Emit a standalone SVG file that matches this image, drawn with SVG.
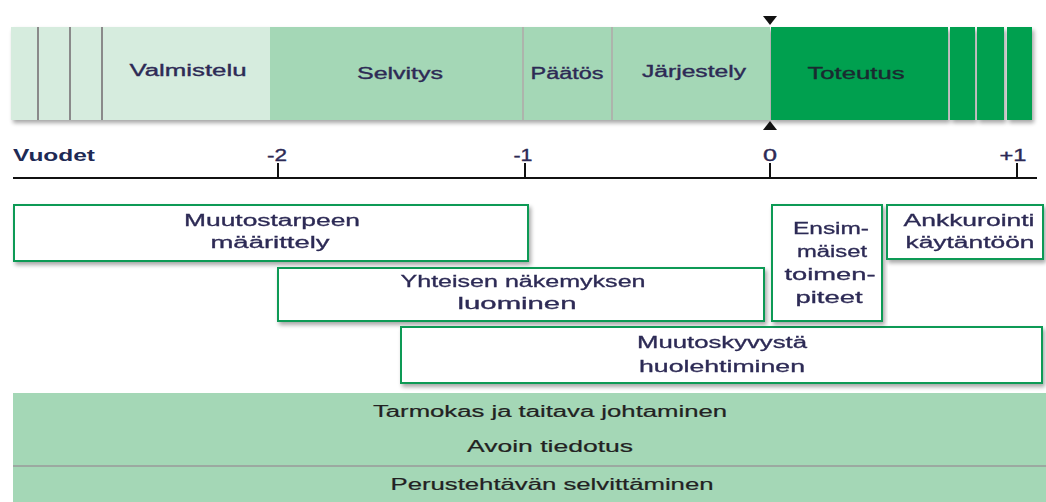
<svg xmlns="http://www.w3.org/2000/svg" width="1046" height="502" viewBox="0 0 1046 502">
<defs>
<filter id="sh" x="-5%" y="-20%" width="110%" height="150%">
<feGaussianBlur in="SourceAlpha" stdDeviation="2"/>
<feOffset dx="2" dy="3" result="b"/>
<feComponentTransfer><feFuncA type="linear" slope="0.35"/></feComponentTransfer>
<feMerge><feMergeNode/><feMergeNode in="SourceGraphic"/></feMerge>
</filter>
</defs>
<style>
text{font-family:"Liberation Sans",Arial,sans-serif;font-size:16px;fill:#2d2a55;text-anchor:middle}
.bar{font-size:16px;stroke:#2d2a55;stroke-width:0.35}
.bx{font-size:16px;stroke:#2d2a55;stroke-width:0.3}
.bot{font-size:16px;fill:#222;stroke:#222;stroke-width:0.2}
.ax{font-size:17px;font-weight:bold;fill:#1e2a55}
.light{fill:#d6ecde}
.mid{fill:#a4d7b6}
.dark{fill:#00a050}
.box{fill:#fff;stroke:#0a9a55;stroke-width:2}
.sep{stroke:#8a8a8a;stroke-width:2}
.sepl{stroke:#b0a8a8;stroke-width:1.5}
.tick{stroke:#111;stroke-width:2}
</style>

<g id="phases" filter="url(#sh)">
<rect class="light" x="11" y="27" width="259" height="93"/>
<rect class="mid" x="270" y="27" width="500" height="93"/>
<rect class="dark" x="771" y="27" width="177" height="93"/>
<rect class="dark" x="950" y="27" width="25" height="93"/>
<rect class="dark" x="977" y="27" width="27" height="93"/>
<rect class="dark" x="1007" y="27" width="25" height="93"/>
</g>
<g id="phase-lines">
<line class="sep" x1="38" y1="27" x2="38" y2="120"/>
<line class="sep" x1="70" y1="27" x2="70" y2="120" stroke="#666" stroke-width="3"/>
<line class="sep" x1="102" y1="27" x2="102" y2="120"/>
<line class="sepl" x1="523" y1="27" x2="523" y2="120"/>
<line class="sepl" x1="612" y1="27" x2="612" y2="120"/>
</g>
<g id="phase-valmistelu"><text class="bar" x="188" y="76" textLength="117" lengthAdjust="spacingAndGlyphs">Valmistelu</text></g>
<g id="phase-selvitys"><text class="bar" x="400" y="79" textLength="86" lengthAdjust="spacingAndGlyphs">Selvitys</text></g>
<g id="phase-paatos"><text class="bar" x="567" y="79" textLength="73" lengthAdjust="spacingAndGlyphs">Päätös</text></g>
<g id="phase-jarjestely"><text class="bar" x="694" y="77" textLength="104" lengthAdjust="spacingAndGlyphs">Järjestely</text></g>
<g id="phase-toteutus"><text class="bar" x="856" y="79" textLength="97" lengthAdjust="spacingAndGlyphs" style="fill:#1a2a30;stroke:#1a2a30">Toteutus</text></g>

<g id="markers">
<polygon points="763,16 777,16 770,25" fill="#111"/>
<polygon points="763,130 777,130 770,121" fill="#111"/>
</g>

<g id="connectors">
<line class="tick" x1="13" y1="178" x2="1037" y2="178"/>
<line class="tick" x1="278" y1="163" x2="278" y2="178"/>
<line class="tick" x1="525" y1="163" x2="525" y2="178"/>
<line class="tick" x1="770" y1="163" x2="770" y2="178"/>
<line class="tick" x1="1017" y1="163" x2="1017" y2="178"/>
</g>
<g id="axis-labels">
<text class="ax" x="13" y="161" style="text-anchor:start" textLength="82" lengthAdjust="spacingAndGlyphs">Vuodet</text>
<text class="bar" x="277" y="161" textLength="20" lengthAdjust="spacingAndGlyphs">-2</text>
<text class="bar" x="523" y="161" textLength="19" lengthAdjust="spacingAndGlyphs">-1</text>
<text class="bar" x="770" y="161" textLength="14" lengthAdjust="spacingAndGlyphs">0</text>
<text class="bar" x="1013" y="161" textLength="27" lengthAdjust="spacingAndGlyphs">+1</text>
</g>

<g id="box-muutostarpeen" filter="url(#sh)">
<rect class="box" x="14" y="205" width="514" height="56"/>
<text class="bx" x="272" y="226" textLength="176" lengthAdjust="spacingAndGlyphs">Muutostarpeen</text>
<text class="bx" x="270" y="248" textLength="119" lengthAdjust="spacingAndGlyphs">määrittely</text>
</g>
<g id="box-yhteisen" filter="url(#sh)">
<rect class="box" x="278" y="268" width="486" height="53"/>
<text class="bx" x="523" y="287" textLength="245" lengthAdjust="spacingAndGlyphs">Yhteisen näkemyksen</text>
<text class="bx" x="517" y="309" textLength="119" lengthAdjust="spacingAndGlyphs">luominen</text>
</g>
<g id="box-muutoskyvysta" filter="url(#sh)">
<rect class="box" x="401" y="327" width="641" height="56"/>
<text class="bx" x="722" y="348" textLength="170" lengthAdjust="spacingAndGlyphs">Muutoskyvystä</text>
<text class="bx" x="722" y="372" textLength="166" lengthAdjust="spacingAndGlyphs">huolehtiminen</text>
</g>
<g id="box-ensimmaiset" filter="url(#sh)">
<rect class="box" x="772" y="205" width="110" height="116"/>
<text class="bx" x="831" y="234" textLength="76" lengthAdjust="spacingAndGlyphs">Ensim-</text>
<text class="bx" x="832" y="257" textLength="70" lengthAdjust="spacingAndGlyphs">mäiset</text>
<text class="bx" x="830" y="280" textLength="91" lengthAdjust="spacingAndGlyphs">toimen-</text>
<text class="bx" x="829" y="303" textLength="67" lengthAdjust="spacingAndGlyphs">piteet</text>
</g>
<g id="box-ankkurointi" filter="url(#sh)">
<rect class="box" x="887" y="205" width="156" height="54"/>
<text class="bx" x="969" y="226" textLength="131" lengthAdjust="spacingAndGlyphs">Ankkurointi</text>
<text class="bx" x="970" y="248" textLength="129" lengthAdjust="spacingAndGlyphs">käytäntöön</text>
</g>

<g id="foundation">
<rect class="mid" x="13" y="393" width="1033" height="109"/>
<line x1="13" y1="466" x2="1046" y2="466" stroke="#9a9a9a" stroke-width="1.5"/>
<text class="bot" x="550" y="417" textLength="354" lengthAdjust="spacingAndGlyphs">Tarmokas ja taitava johtaminen</text>
<text class="bot" x="550" y="452" textLength="166" lengthAdjust="spacingAndGlyphs">Avoin tiedotus</text>
<text class="bot" x="552" y="490" textLength="323" lengthAdjust="spacingAndGlyphs">Perustehtävän selvittäminen</text>
</g>
</svg>
